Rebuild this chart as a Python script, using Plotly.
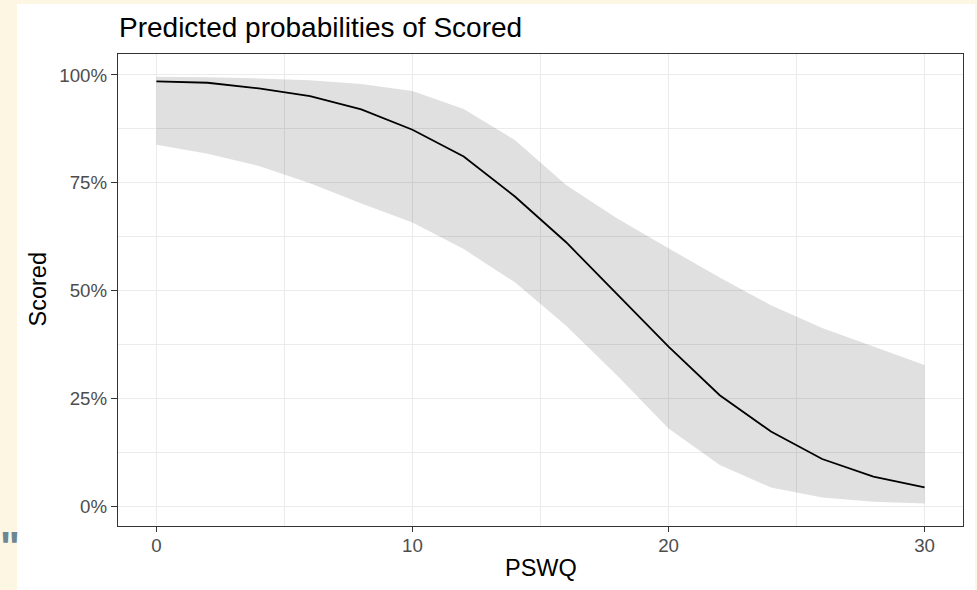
import plotly.graph_objects as go

# Predicted probability of scoring across PSWQ values, with 95% CI band
pswq = [0, 2, 4, 6, 8, 10, 12, 14, 16, 18, 20, 22, 24, 26, 28, 30]
predicted = [0.985, 0.982, 0.969, 0.951, 0.920, 0.873, 0.811, 0.718,
             0.612, 0.490, 0.370, 0.257, 0.173, 0.109, 0.068, 0.043]
ci_high = [0.996, 0.995, 0.992, 0.988, 0.979, 0.963, 0.921, 0.849,
           0.745, 0.667, 0.598, 0.530, 0.466, 0.413, 0.370, 0.327]
ci_low = [0.838, 0.817, 0.789, 0.749, 0.702, 0.658, 0.596, 0.519,
          0.418, 0.302, 0.180, 0.095, 0.043, 0.020, 0.010, 0.006]

x_ticks = [0, 10, 20, 30]
y_ticks = [0, 0.25, 0.5, 0.75, 1.0]
y_tick_labels = ["0%", "25%", "50%", "75%", "100%"]

title_text = "Predicted probabilities of Scored"
x_title = "PSWQ"
y_title = "Scored"

FONT = "Liberation Sans, Arial, sans-serif"
CREAM = "#FDF6E3"

fig = go.Figure()

# confidence ribbon
fig.add_trace(go.Scatter(
    x=pswq + pswq[::-1],
    y=ci_high + ci_low[::-1],
    fill="toself",
    fillcolor="rgba(0,0,0,0.12)",
    line=dict(width=0),
    mode="lines",
    hoverinfo="skip",
    showlegend=False,
))

# predicted line
fig.add_trace(go.Scatter(
    x=pswq, y=predicted,
    mode="lines",
    line=dict(color="black", width=1.8),
    showlegend=False,
))

W, H = 977, 590
L, R, T, B = 118, 14, 54, 64
pw, ph = W - L - R, H - T - B


def px_x(v):
    return (v - L) / pw


def px_y(v):
    return (H - B - v) / ph


axis_common = dict(
    showline=True, linecolor="#333333", linewidth=1.3, mirror=True,
    ticks="outside", tickwidth=1.3, tickcolor="#333333",
    tickfont=dict(family=FONT, size=18.7, color="#4D4D4D"),
    showgrid=True, gridcolor="#EBEBEB", gridwidth=1.4,
    zeroline=False,
)

fig.update_layout(
    width=W, height=H,
    margin=dict(l=L, r=R, t=T, b=B, pad=0),
    paper_bgcolor=CREAM,
    plot_bgcolor="white",
    font=dict(family=FONT),
    xaxis=dict(
        range=[-1.5, 31.5],
        tickvals=x_ticks,
        ticklen=5,
        ticklabelstandoff=-3,
        minor=dict(dtick=5, tick0=0, showgrid=True, gridcolor="#EBEBEB",
                   gridwidth=1.0, ticks=""),
        **axis_common,
    ),
    yaxis=dict(
        range=[-0.0464, 1.0487],
        tickvals=y_ticks,
        ticktext=y_tick_labels,
        ticklen=6,
        minor=dict(dtick=0.125, tick0=0, showgrid=True, gridcolor="#EBEBEB",
                   gridwidth=1.0, ticks=""),
        **axis_common,
    ),
    shapes=[
        # white card behind the chart
        dict(type="rect", xref="paper", yref="paper",
             x0=px_x(17), x1=px_x(975), y0=px_y(H + 5), y1=px_y(4),
             fillcolor="white", line=dict(width=0), layer="below"),
    ],
    annotations=[
        dict(text=title_text, xref="paper", yref="paper",
             x=px_x(117), y=px_y(27), xanchor="left", yanchor="middle",
             showarrow=False, font=dict(family=FONT, size=28, color="black")),
        dict(text=x_title, xref="paper", yref="paper",
             x=px_x(540.5), y=px_y(567.5), xanchor="center", yanchor="middle",
             showarrow=False, font=dict(family=FONT, size=23.5, color="black")),
        dict(text=y_title, xref="paper", yref="paper", textangle=-90,
             x=px_x(37.5), y=px_y(290), xanchor="center", yanchor="middle",
             showarrow=False, font=dict(family=FONT, size=23.5, color="black")),
        dict(text='<b>"</b>', xref="paper", yref="paper",
             x=px_x(-2), y=px_y(546), xanchor="left", yanchor="middle",
             showarrow=False, font=dict(family=FONT, size=42, color="#6C8793")),
    ],
)

fig.write_html("out.html")
